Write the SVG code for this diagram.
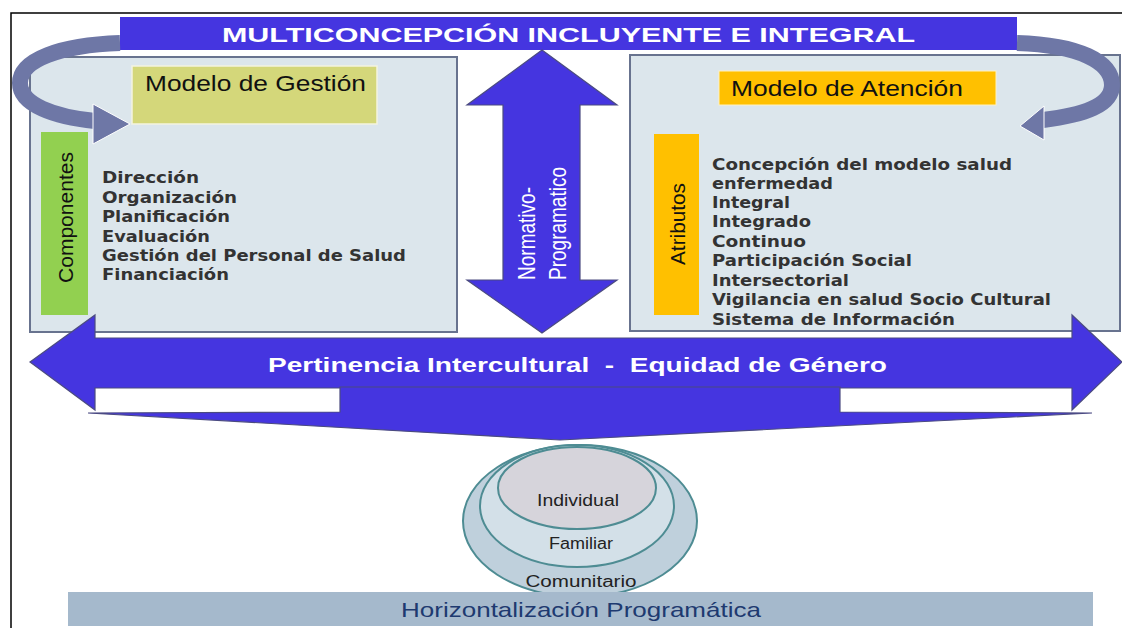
<svg xmlns="http://www.w3.org/2000/svg" width="1122" height="628" viewBox="0 0 1122 628">
<style>
.panel{fill:#DCE6EC;stroke:#68738F;stroke-width:2}
.blue{fill:#4535E0;stroke:#4B4B80;stroke-width:1.2}
.curve{fill:none;stroke:#6E77A6;stroke-width:16}
.curvehead{fill:#6E77A6;stroke:#FFFFFF;stroke-width:1}
.item{font-family:"DejaVu Sans",sans-serif;font-weight:bold;font-size:15px;fill:#333333}
.head{font-family:"Liberation Sans",sans-serif;font-size:22px;fill:#111111}
.vert{font-family:"Liberation Sans",sans-serif;font-size:21px;fill:#111111}
.white{font-family:"Liberation Sans",sans-serif;fill:#FFFFFF}
.ring{stroke:#4E8C93;stroke-width:2}
.ringtxt{font-family:"Liberation Sans",sans-serif;font-size:16px;fill:#222222;text-anchor:middle}
</style>
<defs>
<clipPath id="clipR"><rect x="630" y="55" width="490" height="272"/></clipPath>
</defs>
<rect width="1122" height="628" fill="#FFFFFF"/>
<g id="frame" fill="none" stroke="#000" stroke-width="1.5">
<path d="M11,628 L11,13 L1122,13"/>
</g>
<g id="left-panel">
<rect class="panel" x="30" y="57" width="427" height="275"/>
<g id="modelo-gestion">
<rect x="132" y="66" width="245" height="58" fill="#D4D77A" stroke="#F4F4E0" stroke-width="1.5"/>
<text class="head" x="145" y="91" textLength="221" lengthAdjust="spacingAndGlyphs">Modelo de Gestión</text>
</g>
<g id="componentes">
<rect x="41" y="132" width="47" height="183" fill="#92D050"/>
<text class="vert" transform="translate(73,283) rotate(-90)" textLength="131" lengthAdjust="spacingAndGlyphs">Componentes</text>
</g>
<g id="lista-componentes">
<text class="item" x="102" y="183" textLength="97" lengthAdjust="spacingAndGlyphs">Dirección</text>
<text class="item" x="102" y="203" textLength="135" lengthAdjust="spacingAndGlyphs">Organización</text>
<text class="item" x="102" y="222" textLength="128" lengthAdjust="spacingAndGlyphs">Planificación</text>
<text class="item" x="102" y="242" textLength="108" lengthAdjust="spacingAndGlyphs">Evaluación</text>
<text class="item" x="102" y="261" textLength="304" lengthAdjust="spacingAndGlyphs">Gestión del Personal de Salud</text>
<text class="item" x="102" y="280" textLength="127" lengthAdjust="spacingAndGlyphs">Financiación</text>
</g>
</g>
<g id="right-panel">
<rect class="panel" x="630" y="55" width="490" height="276"/>
<g id="modelo-atencion">
<rect x="719" y="71" width="277" height="34" fill="#FFC000" stroke="#FFF2C0" stroke-width="1"/>
<text class="head" x="731" y="96" textLength="232" lengthAdjust="spacingAndGlyphs">Modelo de Atención</text>
</g>
<g id="atributos">
<rect x="654" y="134" width="45" height="181" fill="#FFC000"/>
<text class="vert" transform="translate(685,265) rotate(-90)" textLength="82" lengthAdjust="spacingAndGlyphs">Atributos</text>
</g>
<g id="lista-atributos" clip-path="url(#clipR)">
<text class="item" x="712" y="170" textLength="300" lengthAdjust="spacingAndGlyphs">Concepción del modelo salud</text>
<text class="item" x="712" y="189" textLength="121" lengthAdjust="spacingAndGlyphs">enfermedad</text>
<text class="item" x="712" y="208" textLength="78" lengthAdjust="spacingAndGlyphs">Integral</text>
<text class="item" x="712" y="227" textLength="99" lengthAdjust="spacingAndGlyphs">Integrado</text>
<text class="item" x="712" y="247" textLength="94" lengthAdjust="spacingAndGlyphs">Continuo</text>
<text class="item" x="712" y="266" textLength="200" lengthAdjust="spacingAndGlyphs">Participación Social</text>
<text class="item" x="712" y="286" textLength="137" lengthAdjust="spacingAndGlyphs">Intersectorial</text>
<text class="item" x="712" y="305" textLength="339" lengthAdjust="spacingAndGlyphs">Vigilancia en salud Socio Cultural</text>
<text class="item" x="712" y="325" textLength="243" lengthAdjust="spacingAndGlyphs">Sistema de Información</text>
</g>
</g>
<g id="titulo">
<rect x="120" y="17" width="897" height="33" fill="#4535E0"/>
<text class="white" x="222" y="42" font-size="21" font-weight="bold" textLength="693" lengthAdjust="spacingAndGlyphs">MULTICONCEPCIÓN INCLUYENTE E INTEGRAL</text>
</g>
<g id="connectors">
<path class="curve" d="M120,43 C60,45 20,60 20,83 C20,105 55,117 95,121"/>
<polygon class="curvehead" points="93,104 130,124 93,144"/>
<path class="curve" d="M1017,43 C1080,45 1112,62 1112,85 C1112,105 1085,115 1043,120"/>
<polygon class="curvehead" points="1044,106 1020,126 1044,140"/>
<polygon class="blue" points="542,50 617,105 580,105 580,280 617,280 542,333 467,280 503,280 503,105 467,105"/>
<polygon class="blue" points="30,362 95,315 95,338 1072,338 1072,315 1122,362 1072,410 1072,388 95,388 95,410"/>
<polygon class="blue" points="340,387 840,387 840,412 1092,413 560,440 88,413 340,412"/>
</g>
<g id="normativo">
<text class="white" transform="translate(535,280) rotate(-90)" font-size="24" textLength="93" lengthAdjust="spacingAndGlyphs">Normativo-</text>
<text class="white" transform="translate(566,280) rotate(-90)" font-size="24" textLength="113" lengthAdjust="spacingAndGlyphs">Programatico</text>
</g>
<g id="pertinencia">
<text class="white" x="268" y="372" font-size="20" font-weight="bold" textLength="619" lengthAdjust="spacingAndGlyphs" xml:space="preserve">Pertinencia Intercultural  -  Equidad de Género</text>
</g>
<g id="comunitario">
<ellipse class="ring" cx="580" cy="521" rx="117" ry="76" fill="#BFD0DC"/>
<text class="ringtxt" x="581" y="587" textLength="111" lengthAdjust="spacingAndGlyphs">Comunitario</text>
</g>
<g id="familiar">
<ellipse class="ring" cx="577" cy="506" rx="97" ry="61" fill="#D3E0E8"/>
<text class="ringtxt" x="581" y="549" textLength="64" lengthAdjust="spacingAndGlyphs">Familiar</text>
</g>
<g id="individual">
<ellipse class="ring" cx="577" cy="488" rx="79" ry="41" fill="#D6D4DB"/>
<text class="ringtxt" x="578" y="506" textLength="82" lengthAdjust="spacingAndGlyphs">Individual</text>
</g>
<g id="horizontalizacion">
<rect x="68" y="592" width="1025" height="34" fill="#A5B9CC"/>
<text x="581" y="617" font-family="Liberation Sans, sans-serif" font-size="21" fill="#1E3A70" text-anchor="middle" textLength="360" lengthAdjust="spacingAndGlyphs">Horizontalización Programática</text>
</g>
</svg>
